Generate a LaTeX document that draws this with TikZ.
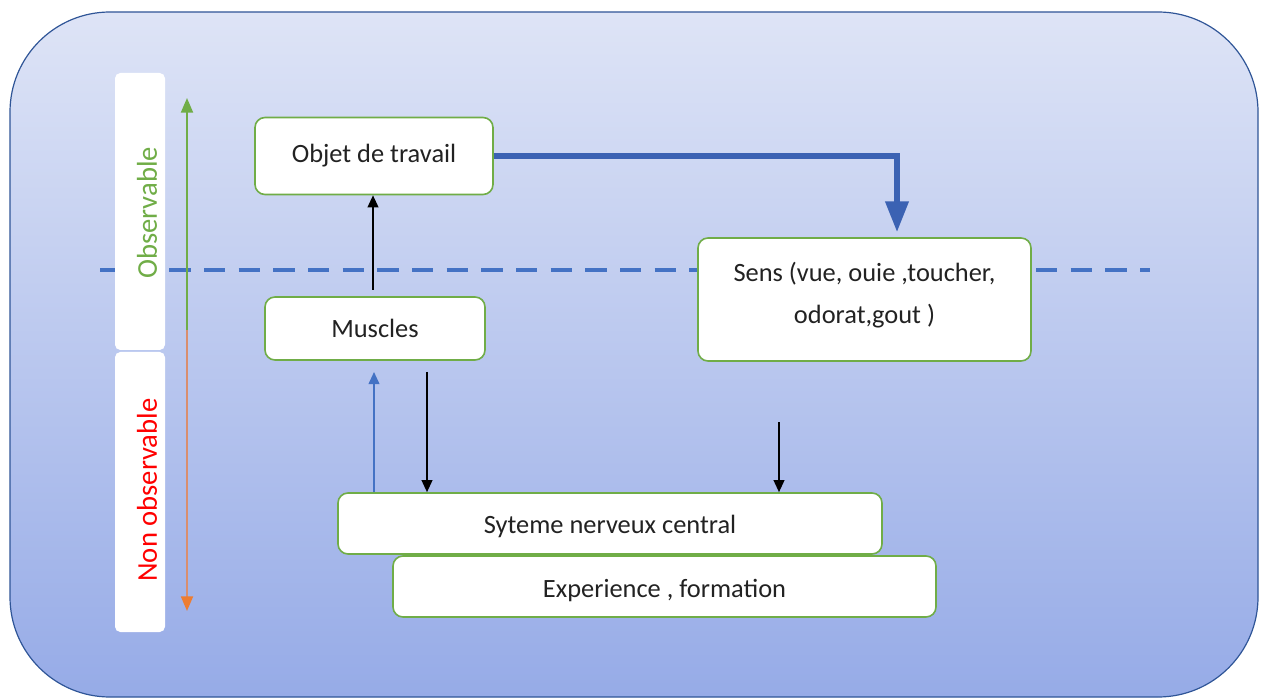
\documentclass[tikz,border=0pt]{standalone}
\usepackage{fontspec}
\setmainfont{Carlito}
\usetikzlibrary{arrows.meta}
\definecolor{bgtop}{HTML}{DEE4F6}
\definecolor{bgbot}{HTML}{96ABE7}
\definecolor{frame}{HTML}{2F5597}
\definecolor{boxgreen}{HTML}{70AD47}
\definecolor{blueline}{HTML}{4472C4}
\definecolor{darkblue}{HTML}{3B62B3}
\definecolor{orangetip}{HTML}{ED7D31}
\definecolor{orangeline}{HTML}{D98E6E}
\definecolor{txt}{HTML}{222222}
\begin{document}
\begin{tikzpicture}[x=0.75pt,y=-0.75pt,
  box/.style={draw=boxgreen,line width=1.2pt,fill=white,rounded corners=7.5pt,
    inner sep=0pt,align=center,text=txt,font=\fontsize{19.8}{32}\selectfont},
  sidebar/.style={fill=white,draw=none,rounded corners=4pt},
  blk/.style={draw=black,line width=1.3pt,-{Triangle[width=8pt,length=9pt]}},
  thinblue/.style={draw=blueline,line width=1.3pt,-{Triangle[width=8pt,length=9pt]}},
  thickblue/.style={draw=darkblue,line width=3.8pt,-{Triangle[width=17pt,length=23pt]}},
  sidelabel/.style={rotate=90,font=\fontsize{21.5}{24}\selectfont,inner sep=0pt}]
\useasboundingbox (0,0) rectangle (1263,698);
% background panel
\path[top color=bgtop,bottom color=bgbot,draw=frame,line width=0.9pt,rounded corners=75pt]
  (10,12) rectangle (1258,697);
% dashed separator
\draw[blueline,line width=2.4pt,dash pattern=on 16pt off 10pt] (100,270) -- (1150,270);
% side bar
\path[sidebar] (115,73) rectangle (165,350);
\path[sidebar] (115,352) rectangle (165,632);
\node[sidelabel,text=boxgreen] (obs) at (147,213) {Observable};
\node[sidelabel,text=red] (nonobs) at (147,490) {Non observable};
% side arrows
\coordinate (mid) at (187,330);
\coordinate (top) at (187,98);
\coordinate (bot) at (187,611);
\draw[boxgreen,line width=1.5pt,-{Triangle[width=9pt,length=11pt]}] (mid) -- (top);
\draw[orangeline,line width=1.5pt,-{Triangle[width=9pt,length=11pt,color=orangetip]}] (mid) -- (bot);
% boxes
\node[box,minimum width=178.5pt,minimum height=57.75pt] (objet) at (374,156) {\raisebox{2.5pt}{Objet de travail}};
\node[box,minimum width=165pt,minimum height=47.25pt] (muscles) at (375,328.5) {Muscles};
\node[box,minimum width=249.75pt,minimum height=92.25pt] (sens) at (864.5,299.5) {Sens (vue, ouie ,toucher,\\odorat,gout )\\[-22pt]\mbox{}};
\node[box,minimum width=408pt,minimum height=45.75pt,text height=16.5pt,text depth=2pt] (snc) at (610,523.5) {Syteme nerveux central};
\node[box,minimum width=407.25pt,minimum height=45.75pt,text height=18pt,text depth=2pt] (exp) at (664.5,586.5) {Experience , formation};
% connectors
\coordinate (sensin) at (897,232);
\draw[thickblue] (objet.east) -| (sensin);
\coordinate (muscTop) at (373,290);
\draw[blk] (muscTop) -- (objet.south -| muscTop);
\coordinate (muscBot) at (374,372);
\draw[thinblue] (snc.north -| muscBot) -- (muscBot);
\coordinate (downA) at (427,372);
\draw[blk] (downA) -- (snc.north -| downA);
\coordinate (downB) at (779,422);
\draw[blk] (downB) -- (snc.north -| downB);
\end{tikzpicture}
\end{document}
